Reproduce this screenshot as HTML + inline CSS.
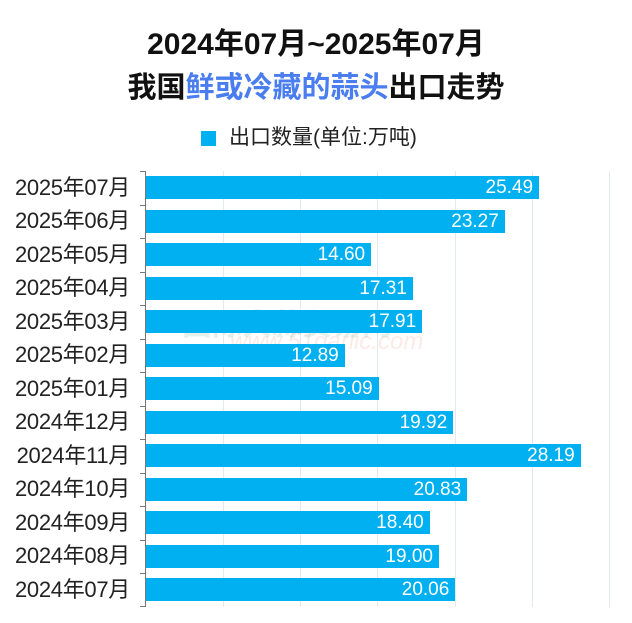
<!DOCTYPE html>
<html><head><meta charset="utf-8"><style>
body{margin:0;width:632px;height:623px;background:#fff;position:relative;overflow:hidden;font-family:"Liberation Sans","Noto Sans CJK SC",sans-serif;}
.t{position:absolute;left:0;width:632px;text-align:center;font-weight:bold;color:#111;line-height:36px;}
.b{color:#4a7df0}
.lab{position:absolute;right:502px;font-size:22px;color:#222;line-height:24px;white-space:nowrap;letter-spacing:-0.3px}
.bar{position:absolute;left:146px;height:23px;background:#00b0f0;}
.v{position:absolute;right:6px;top:0;line-height:23px;font-size:19px;color:#fff;}
.g{position:absolute;top:171px;height:436px;width:1px;background:#e4e8f2;}
.tk{position:absolute;left:140px;width:6px;height:1px;background:#777;}
</style></head><body>
<div class="t" style="top:27px;font-size:30px">2024年07月~2025年07月</div>
<div class="t" style="top:70px;font-size:29px">我国<span class="b">鲜或冷藏的蒜头</span>出口走势</div>
<div style="position:absolute;left:201px;top:131px;width:15px;height:15px;background:#00b0f0"></div>
<div style="position:absolute;left:229px;top:125px;font-size:21px;color:#222;line-height:26px;white-space:nowrap">出口数量(单位:万吨)</div>
<div class="g" style="left:223px"></div><div class="g" style="left:300px"></div><div class="g" style="left:377px"></div><div class="g" style="left:455px"></div><div class="g" style="left:532px"></div><div class="g" style="left:609px"></div>
<div style="position:absolute;left:182px;top:300px;font-size:30px;font-weight:bold;color:rgba(60,170,120,0.15);white-space:nowrap">国际大蒜贸易网</div>
<div style="position:absolute;left:230px;top:328px;font-size:24px;font-style:italic;color:rgba(240,140,120,0.18);white-space:nowrap">www.51garlic.com</div>
<div style="position:absolute;left:145px;top:171px;width:1px;height:436px;background:#777"></div>
<div id="c"></div>
<script>
var d=[["2025年07月",25.49],["2025年06月",23.27],["2025年05月",14.60],["2025年04月",17.31],["2025年03月",17.91],["2025年02月",12.89],["2025年01月",15.09],["2024年12月",19.92],["2024年11月",28.19],["2024年10月",20.83],["2024年09月",18.40],["2024年08月",19.00],["2024年07月",20.06]];
var h="";
for(var i=0;i<13;i++){var c=171+33.5*(i+0.5);
h+='<div class="lab" style="top:'+(c-12)+'px">'+d[i][0]+'</div>';
h+='<div class="bar" style="top:'+(c-11.5)+'px;width:'+(d[i][1]*15.42)+'px"><span class="v">'+d[i][1].toFixed(2)+'</span></div>';
h+='<div class="tk" style="top:'+(171+33.5*i)+'px"></div>';}
h+='<div class="tk" style="top:606px"></div>';
document.getElementById("c").innerHTML=h;
</script>
</body></html>
